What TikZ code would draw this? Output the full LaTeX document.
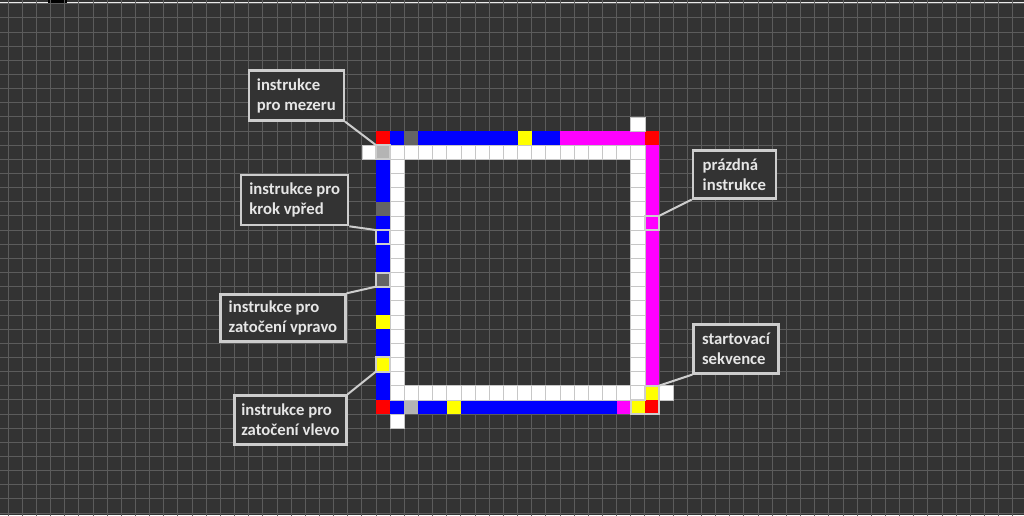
\documentclass[tikz,border=0pt]{standalone}
\usepackage{fontspec}
\setmainfont{Carlito}
\usetikzlibrary{positioning}
\definecolor{bg}{HTML}{333333}
\definecolor{gridline}{HTML}{5C5C5C}
\definecolor{frame}{HTML}{CDCDCD}
\definecolor{txt}{HTML}{E6E6E6}
\definecolor{lgray}{HTML}{B4B4B4}
\definecolor{dgray}{HTML}{646464}
\definecolor{cblue}{RGB}{0,0,255}
\definecolor{cred}{RGB}{255,0,0}
\definecolor{cyel}{RGB}{255,255,0}
\definecolor{cmag}{RGB}{255,0,255}
\tikzset{
 callout/.style={draw=frame,line width=2.3pt,fill=bg,text=txt,align=left,
  anchor=north west,inner sep=0pt,font=\bfseries\fontsize{16.7}{20}\selectfont},
 hl/.style={draw=frame,line width=2pt},
 link/.style={frame,line width=2pt},
 blank/.style={fill=white,draw=black!22,line width=.7pt}
}

\begin{document}
\begin{tikzpicture}[x=1pt,y=-1pt]
\useasboundingbox (0,0) rectangle (1024,515);
\fill[bg] (0,0) rectangle (1024,515);
\fill[white!92!black] (0,1.5) rectangle (1024,3.2);
\fill[black] (48,0) rectangle (67,2.5);
% the sheet, one unit per cell
\begin{scope}[shift={(376,131)},x=14.15pt,y=-14.15pt]
\foreach \k in {-26,...,45} \draw[gridline,line width=.9pt] (\k,-9.3)--(\k,27.2);
\foreach \k in {-9,...,27} \draw[gridline,line width=.9pt] (-26.6,\k)--(45.9,\k);
% left column
\foreach \r in {2,3,4,6,7,8,9,11,12,14,15,17,18} \fill[cblue] (0,\r) rectangle +(1,1);
\foreach \r in {5,10} \fill[dgray] (0,\r) rectangle +(1,1);
\foreach \r in {13,16} \fill[cyel] (0,\r) rectangle +(1,1);
\fill[lgray] (0,1) rectangle +(1,1);
% top row
\foreach \c in {1,3,4,5,6,7,8,9,11,12} \fill[cblue] (\c,0) rectangle +(1,1);
\foreach \c in {13,...,18} \fill[cmag] (\c,0) rectangle +(1,1);
\fill[dgray] (2,0) rectangle +(1,1);
\fill[cyel] (10,0) rectangle +(1,1);
% bottom row
\foreach \c in {1,3,4,6,7,...,16} \fill[cblue] (\c,19) rectangle +(1,1);
\fill[lgray] (2,19) rectangle +(1,1);
\fill[cyel] (5,19) rectangle +(1,1);
\fill[cmag] (17,19) rectangle +(1,1);
\fill[cyel] (18,19) rectangle +(1,1);
% right column
\foreach \r in {1,...,17} \fill[cmag] (19,\r) rectangle +(1,1);
\fill[cyel] (19,18) rectangle +(1,1);
\foreach \c/\r in {0/0,19/0,0/19,19/19} \fill[cred] (\c,\r) rectangle +(1,1);
% empty track
\foreach \c in {-1,1,2,...,18} \draw[blank] (\c,1) rectangle +(1,1);
\foreach \c in {1,...,18,20} \draw[blank] (\c,18) rectangle +(1,1);
\foreach \r in {2,...,17} {\draw[blank] (1,\r) rectangle +(1,1);
 \draw[blank] (18,\r) rectangle +(1,1);}
\draw[blank] (18,-1) rectangle +(1,1);
\draw[blank] (1,20) rectangle +(1,1);
% marked cells
\draw[hl] (0,1) rectangle +(1,1);
\draw[hl] (0,7) rectangle +(1,1);
\draw[hl] (0,10) rectangle +(1,1);
\draw[hl] (0,16) rectangle +(1,1);
\draw[hl] (19,6) rectangle +(1,1);
\draw[hl] (18,19)--(18,20)--(20,20)--(20,18)--(19,18)--(19,19)--cycle;
\coordinate (pMezera) at (0,1);
\coordinate (pKrok) at (0,7);
\coordinate (pVpravo) at (0,11);
\coordinate (pVlevo) at (0,17);
\coordinate (pPrazdna) at (20,6);
\coordinate (pStart) at (20,18);
\end{scope}
% labels
\node[callout,minimum width=95pt,minimum height=50pt] (mezera) at (247.7,69.3)
 {instrukce\\pro mezeru};
\node[callout,minimum width=107pt,minimum height=50pt] (krok) at (240,174)
 {instrukce pro\\krok vpřed};
\node[callout,minimum width=125pt,minimum height=47pt] (vpravo) at (219.3,293.3)
 {instrukce pro\\zatočení vpravo};
\node[callout,minimum width=112pt,minimum height=49pt] (vlevo) at (233.3,394.3)
 {instrukce pro\\zatočení vlevo};
\node[callout,minimum width=83pt,minimum height=48pt] (prazdna) at (691.7,149.3)
 {prázdná\\instrukce};
\node[callout,minimum width=85pt,minimum height=49pt] (start) at (692.3,323.3)
 {startovací\\sekvence};
\draw[link] (mezera.south east)--(pMezera);
\draw[link] (krok.south east)--(pKrok);
\draw[link] (vpravo.north east)--(pVpravo);
\draw[link] (vlevo.north east)--(pVlevo);
\draw[link] (prazdna.south west)--(pPrazdna);
\draw[link] (start.south west)--(pStart);
\end{tikzpicture}
\end{document}
